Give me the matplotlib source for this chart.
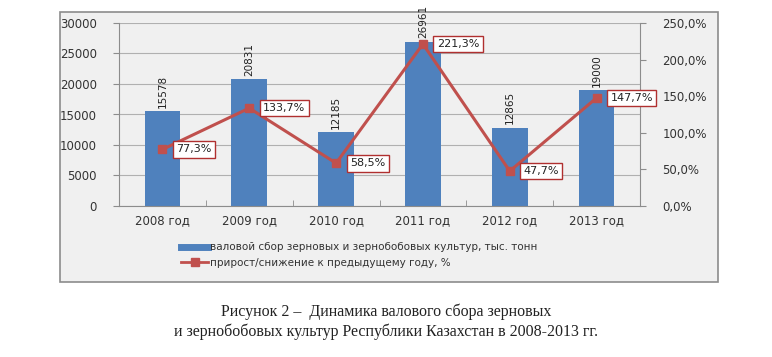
import matplotlib
matplotlib.use("Agg")
import matplotlib.pyplot as plt
from matplotlib.patches import Rectangle
from matplotlib.lines import Line2D
import numpy as np

categories = ["2008 год", "2009 год", "2010 год", "2011 год", "2012 год", "2013 год"]
harvest = [15578, 20831, 12185, 26961, 12865, 19000]
growth = [77.3, 133.7, 58.5, 221.3, 47.7, 147.7]
growth_labels = ["77,3%", "133,7%", "58,5%", "221,3%", "47,7%", "147,7%"]
left_ticks = [0, 5000, 10000, 15000, 20000, 25000, 30000]
right_ticks = [0, 50, 100, 150, 200, 250]
right_tick_labels = ["0,0%", "50,0%", "100,0%", "150,0%", "200,0%", "250,0%"]
legend_labels = ["валовой сбор зерновых и зернобобовых культур, тыс. тонн",
                 "прирост/снижение к предыдущему году, %"]
caption = ["Рисунок 2 –  Динамика валового сбора зерновых",
           "и зернобобовых культур Республики Казахстан в 2008-2013 гг."]

W, H = 772, 357
fig = plt.figure(figsize=(W / 100, H / 100), dpi=100)
fig.patch.set_facecolor("white")

def fx(px):
    return px / W

def fy(py):
    return 1 - py / H

# chart box
box = Rectangle((fx(60), fy(282)), fx(718) - fx(60), fy(12) - fy(282),
                transform=fig.transFigure, facecolor="#f0f0f0",
                edgecolor="#8c8c8c", linewidth=1.2, zorder=-10)
fig.patches.append(box)

ax = fig.add_axes([fx(119), fy(206), fx(640) - fx(119), fy(23) - fy(206)])
ax.set_facecolor("none")
x = np.arange(len(categories))
bar_color = "#4f81bd"
line_color = "#c0504d"
ax.bar(x, harvest, width=0.41, color=bar_color, zorder=2)
ax.set_xlim(-0.5, len(categories) - 0.5)
ax.set_ylim(0, 30000)
ax.set_yticks(left_ticks)
ax.set_yticklabels([str(v) for v in left_ticks])
ax.yaxis.grid(True, color="#b0b0b0", linewidth=0.8, zorder=0)
ax.set_axisbelow(True)
ax.set_xticks(x)
ax.set_xticklabels(categories)
ax.set_xticks(np.arange(len(categories) + 1) - 0.5, minor=True)
ax.tick_params(axis="x", which="major", length=0, labelsize=8.5, colors="#333333", pad=6)
ax.tick_params(axis="x", which="minor", length=4, color="#8c8c8c", direction="in")
ax.tick_params(axis="y", length=4, color="#8c8c8c", labelsize=8.5, labelcolor="#333333", pad=12)
for s in ["top", "right"]:
    ax.spines[s].set_visible(False)
ax.spines["left"].set_color("#8c8c8c")
ax.spines["bottom"].set_color("#8c8c8c")

for xi, v in zip(x, harvest):
    ax.text(xi, v + 500, str(v), rotation=90, ha="center", va="bottom",
            fontsize=7.5, color="#222222", zorder=5, clip_on=False)

ax2 = ax.twinx()
ax2.set_ylim(0, 250)
ax2.set_yticks(right_ticks)
ax2.set_yticklabels(right_tick_labels)
ax2.tick_params(axis="y", length=4, color="#8c8c8c", labelsize=8.5, labelcolor="#333333", pad=12)
for s in ["top", "left", "bottom"]:
    ax2.spines[s].set_visible(False)
ax2.spines["right"].set_color("#8c8c8c")
ax2.plot(x, growth, color=line_color, linewidth=2.2, marker="s", markersize=6,
         markerfacecolor=line_color, markeredgecolor=line_color, zorder=4)
for xi, v, lab in zip(x, growth, growth_labels):
    ax2.annotate(lab, (xi, v), xytext=(10, 0), textcoords="offset points",
                 ha="left", va="center", fontsize=8, color="#222222", zorder=6,
                 bbox=dict(boxstyle="square,pad=0.3", facecolor="white",
                           edgecolor="#b03030", linewidth=1.0))

handles = [Line2D([0], [0], color=bar_color, linewidth=5),
           Line2D([0], [0], color=line_color, linewidth=2, marker="s", markersize=6)]
fig.legend(handles, legend_labels, loc="center left",
           bbox_to_anchor=(fx(177), fy(255)), frameon=False, fontsize=7.5,
           handlelength=2.6, handletextpad=0.2, labelspacing=0.5,
           labelcolor="#333333", borderaxespad=0)

fig.text(0.5, fy(312), caption[0], ha="center", va="center",
         fontfamily="Liberation Serif", fontsize=11.5, color="#222222")
fig.text(0.5, fy(332), caption[1], ha="center", va="center",
         fontfamily="Liberation Serif", fontsize=11.5, color="#222222")

fig.savefig("out.png", dpi=100)
